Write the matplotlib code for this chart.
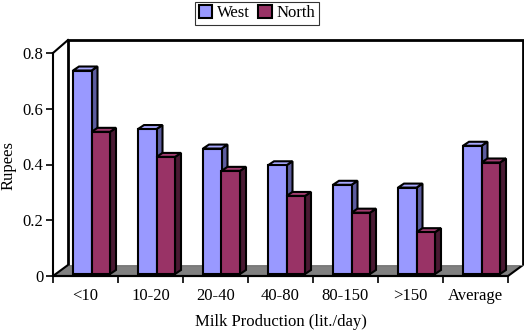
import numpy as np
import matplotlib.pyplot as plt
from matplotlib.patches import Polygon, Rectangle, Patch

# values
categories = ['<10', '10-20', '20-40', '40-80', '80-150', '>150', 'Average']
west = [0.73, 0.52, 0.45, 0.39, 0.32, 0.31, 0.46]
north = [0.51, 0.42, 0.37, 0.28, 0.22, 0.15, 0.40]

W, H = 524, 335
fig = plt.figure(figsize=(W / 100, H / 100), dpi=100)
# front plane: x 53..508 px, y 276 (0) .. 53 (0.8) px
ax = fig.add_axes([53 / W, (H - 276) / H, (508 - 53) / W, (276 - 53) / H])
ax.set_xlim(0, 7)
ax.set_ylim(0, 0.8)
ax.patch.set_visible(False)

px = 7 / 455      # one pixel in x data units
py = 0.8 / 223    # one pixel in y data units

# depth of the 3D box
ddx, ddy = 15 * px, 11 * py
top = 0.8 + 2 * py

# floor
floor = Polygon([(0, 0), (7, 0), (7 + ddx, ddy), (ddx, ddy)], closed=True,
                facecolor='#808080', edgecolor='black', lw=1.5, clip_on=False, zorder=1)
ax.add_patch(floor)
# back wall
wall = Polygon([(ddx, ddy), (ddx, top + ddy), (7 + ddx, top + ddy), (7 + ddx, ddy)],
               closed=False, facecolor='white', edgecolor='black', lw=2, clip_on=False, zorder=1)
ax.add_patch(wall)
# side wall edge
ax.plot([0, ddx], [0.8, top + ddy], color='black', lw=1.5, clip_on=False, zorder=2)

# bars
bw = 18.5 * px
bdx, bdy = 6 * px, 4 * py
base = 2 * py
colors = [('#9999FF', '#5C5C9E', '#A8A8FF'), ('#993366', '#4A1A33', '#A33D70')]


def bar3d(x0, v, cols):
    front, side, topc = cols
    t = base + v
    ax.add_patch(Polygon([(x0 + bw, base), (x0 + bw + bdx, base + bdy),
                          (x0 + bw + bdx, t + bdy), (x0 + bw, t)],
                         facecolor=side, edgecolor='black', lw=1.5, clip_on=False, zorder=3))
    ax.add_patch(Polygon([(x0, t), (x0 + bw, t), (x0 + bw + bdx, t + bdy), (x0 + bdx, t + bdy)],
                         facecolor=topc, edgecolor='black', lw=1.5, clip_on=False, zorder=3))
    ax.add_patch(Rectangle((x0, base), bw, v, facecolor=front, edgecolor='black',
                           lw=1.5, clip_on=False, zorder=3))


for i in range(len(categories)):
    x0 = i + 20 * px
    bar3d(x0, west[i], colors[0])
    bar3d(x0 + bw, north[i], colors[1])

# axes styling
for s in ['top', 'right']:
    ax.spines[s].set_visible(False)
for s in ['left', 'bottom']:
    ax.spines[s].set_linewidth(1.5)
    ax.spines[s].set_zorder(4)

font = 'Liberation Serif'
fs = 12
ax.set_yticks([0, 0.2, 0.4, 0.6, 0.8])
ax.set_yticklabels(['0', '0.2', '0.4', '0.6', '0.8'], fontsize=fs, family=font)
ax.set_xticks(range(8))
ax.set_xticklabels([])
ax.set_xticks(np.arange(7) + 0.5, minor=True)
ax.set_xticklabels(categories, minor=True, fontsize=fs, family=font)
ax.tick_params(axis='both', which='major', direction='out', length=5, width=1.2)
ax.tick_params(axis='x', which='minor', length=0, pad=9)
ax.tick_params(axis='y', pad=2)

ax.set_xlabel('Milk Production (lit./day)', fontsize=fs, family=font, labelpad=7)
fig.text(9 / W, 1 - 165 / H, 'Rupees', rotation=90, ha='center', va='center',
         fontsize=fs, family=font)

# legend
handles = [Patch(facecolor=colors[0][0], edgecolor='black', lw=1.5, label='West'),
           Patch(facecolor=colors[1][0], edgecolor='black', lw=1.5, label='North')]
leg = fig.legend(handles=handles, loc='upper center', bbox_to_anchor=(257 / W, 1.0), ncol=2,
                 frameon=True, fancybox=False, edgecolor='black', prop={'family': font, 'size': fs},
                 handlelength=0.8, handleheight=0.8, handletextpad=0.3, columnspacing=0.5,
                 borderpad=0.2, borderaxespad=0.1)
leg.get_frame().set_linewidth(0.8)

fig.savefig('out.png', dpi=100)
